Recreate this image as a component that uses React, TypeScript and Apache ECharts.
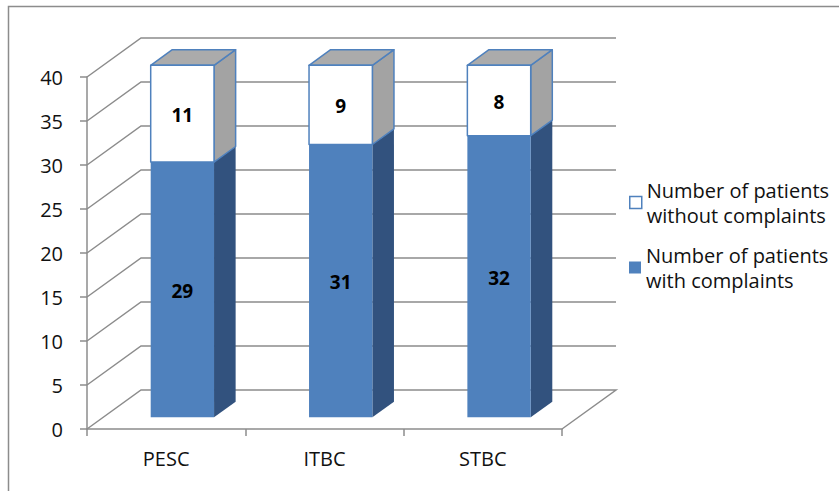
import React, { useEffect, useRef } from 'react';
import * as echarts from 'echarts';

const categories = ['PESC', 'ITBC', 'STBC'];
const withComplaints = [29, 31, 32];
const withoutComplaints = [11, 9, 8];
const seriesNames = [
  'Number of patients with complaints',
  'Number of patients without complaints',
];
const yTicks = [0, 5, 10, 15, 20, 25, 30, 35, 40];

// Depth of the 3D box in pixels, and where the bars sit inside it
const DEPTH_X = 54;
const DEPTH_Y = -39;
const BAR_FRONT = 0.3;
const BAR_DEPTH = 0.4;
const BAR_WIDTH = 0.4;

const FONT = '"Open Sans", "Noto Sans", sans-serif';
const LINE_COLOR = '#8c8c8c';
const TEXT_COLOR = '#111111';
const BLUE = '#4F81BD';

type Faces = { front: string; side: string; top: string; edge: string | null };

function makeBarRenderer(faces: Faces, drawTop: boolean) {
  return (params: any, api: any) => {
    const idx = api.value(0);
    const lo = api.value(1);
    const hi = api.value(2);
    const [cx, yLoFront] = api.coord([idx, lo]);
    const yHiFront = api.coord([idx, hi])[1];
    const band = api.size([1, 0])[0];
    const w = band * BAR_WIDTH;
    const ox = DEPTH_X * BAR_FRONT;
    const oy = DEPTH_Y * BAR_FRONT;
    const dx = DEPTH_X * BAR_DEPTH;
    const dy = DEPTH_Y * BAR_DEPTH;
    const xl = cx - w / 2 + ox;
    const xr = cx + w / 2 + ox;
    const yl = yLoFront + oy;
    const yh = yHiFront + oy;
    const edge = faces.edge
      ? { stroke: faces.edge, lineWidth: 1.5, lineJoin: 'round' }
      : { stroke: null };
    const children: any[] = [
      {
        type: 'polygon',
        shape: { points: [[xr, yl], [xr + dx, yl + dy], [xr + dx, yh + dy], [xr, yh]] },
        style: { fill: faces.side, ...edge },
      },
    ];
    if (drawTop) {
      children.push({
        type: 'polygon',
        shape: { points: [[xl, yh], [xr, yh], [xr + dx, yh + dy], [xl + dx, yh + dy]] },
        style: { fill: faces.top, ...edge },
      });
    }
    children.push({
      type: 'rect',
      shape: { x: xl, y: yh, width: w, height: yl - yh },
      style: { fill: faces.front, ...edge },
    });
    children.push({
      type: 'text',
      x: (xl + xr) / 2,
      y: (yl + yh) / 2 + 1,
      style: {
        text: String(hi - lo),
        fontFamily: FONT,
        fontSize: 19,
        fontWeight: 'bold',
        fill: '#000',
        align: 'center',
        verticalAlign: 'middle',
      },
    });
    return { type: 'group', children };
  };
}

// Back wall, side wall and floor lines of the 3D box
function renderWalls(params: any, api: any) {
  const v = api.value(1);
  const cs = params.coordSys;
  const y = api.coord([0, v])[1];
  const x0 = cs.x;
  const x1 = cs.x + cs.width;
  const points =
    v === yTicks[0]
      ? [[x0, y], [x0 + DEPTH_X, y + DEPTH_Y], [x1 + DEPTH_X, y + DEPTH_Y], [x1, y]]
      : [[x0, y], [x0 + DEPTH_X, y + DEPTH_Y], [x1 + DEPTH_X, y + DEPTH_Y]];
  return {
    type: 'polyline',
    shape: { points },
    style: { stroke: LINE_COLOR, lineWidth: 1.5, fill: null },
  };
}

const legendText = (name: string) => name.replace('patients ', 'patients\n');

const legendBase = {
  orient: 'vertical',
  left: 629,
  padding: 0,
  icon: 'rect',
  itemWidth: 12,
  itemHeight: 12,
  selectedMode: false,
  formatter: legendText,
  textStyle: {
    fontFamily: FONT,
    fontSize: 20,
    color: TEXT_COLOR,
    lineHeight: 25,
    padding: [25, 0, 0, 0],
  },
};

export default function App() {
  const ref = useRef<HTMLDivElement>(null);

  useEffect(() => {
    if (!ref.current) return;
    const chart = echarts.init(ref.current, undefined, { renderer: 'svg' });
    chart.setOption({
      animation: false,
      backgroundColor: '#ffffff',
      graphic: [
        {
          type: 'rect',
          silent: true,
          z: -10,
          shape: { x: 8.5, y: 6.5, width: 1000, height: 1000 },
          style: { fill: 'none', stroke: LINE_COLOR, lineWidth: 1.5 },
        },
      ],
      grid: { left: 87, top: 77, width: 475, height: 352 },
      xAxis: {
        type: 'category',
        data: categories,
        axisLine: { lineStyle: { color: LINE_COLOR, width: 1.5 } },
        axisTick: { show: true, length: 7, interval: 0, lineStyle: { color: LINE_COLOR, width: 1.5 } },
        axisLabel: { margin: 19, fontFamily: FONT, fontSize: 20, color: TEXT_COLOR },
        splitLine: { show: false },
      },
      yAxis: {
        type: 'value',
        min: yTicks[0],
        max: yTicks[yTicks.length - 1],
        interval: yTicks[1] - yTicks[0],
        axisLine: { show: true, lineStyle: { color: LINE_COLOR, width: 1.5 } },
        axisTick: { show: true, length: 7, lineStyle: { color: LINE_COLOR, width: 1.5 } },
        axisLabel: { margin: 24, fontFamily: FONT, fontSize: 20, color: TEXT_COLOR },
        splitLine: { show: false },
      },
      legend: [
        {
          ...legendBase,
          top: 165,
          data: [
            {
              name: seriesNames[1],
              itemStyle: { color: '#ffffff', borderColor: BLUE, borderWidth: 1.5 },
            },
          ],
        },
        {
          ...legendBase,
          top: 230,
          data: [{ name: seriesNames[0], itemStyle: { color: BLUE } }],
        },
      ],
      series: [
        {
          type: 'custom',
          name: 'walls',
          silent: true,
          clip: false,
          z: 1,
          renderItem: renderWalls,
          data: yTicks.map((v) => [0, v]),
          encode: { x: 0, y: 1 },
        },
        {
          type: 'custom',
          name: seriesNames[0],
          clip: false,
          z: 2,
          itemStyle: { color: BLUE },
          renderItem: makeBarRenderer(
            { front: BLUE, side: '#32527E', top: '#6a93c9', edge: null },
            false
          ),
          data: categories.map((_, i) => [i, 0, withComplaints[i]]),
          encode: { x: 0, y: [1, 2] },
        },
        {
          type: 'custom',
          name: seriesNames[1],
          clip: false,
          z: 3,
          itemStyle: { color: '#ffffff', borderColor: BLUE, borderWidth: 1.5 },
          renderItem: makeBarRenderer(
            { front: '#ffffff', side: '#A3A3A3', top: '#ABABAB', edge: BLUE },
            true
          ),
          data: categories.map((_, i) => [
            i,
            withComplaints[i],
            withComplaints[i] + withoutComplaints[i],
          ]),
          encode: { x: 0, y: [1, 2] },
        },
      ],
    });
    return () => chart.dispose();
  }, []);

  return (
    <div
      ref={ref}
      style={{ position: 'absolute', left: 0, top: 0, width: 839, height: 491 }}
    />
  );
}
